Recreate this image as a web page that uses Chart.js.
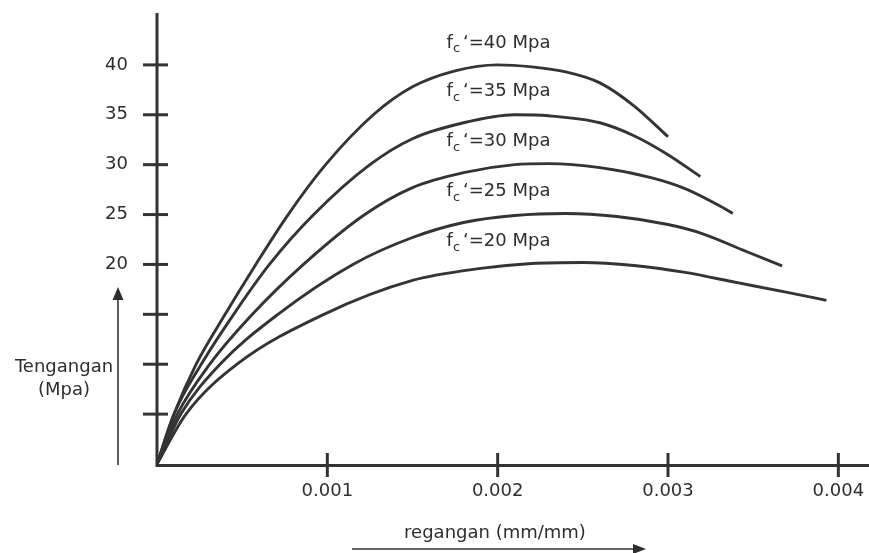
<!DOCTYPE html>
<html>
<head>
<meta charset="utf-8">
<script src="https://cdn.jsdelivr.net/npm/chart.js@4.4.1/dist/chart.umd.min.js"></script>
<style>
html,body{margin:0;padding:0;background:#fff;}
canvas{display:block;}
</style>
</head>
<body>
<canvas id="c" width="869" height="553"></canvas>
<script>
// ---- data ----
const seriesNames = ["40", "35", "30", "25", "20"];
const strain40 = [0, 0.0001, 0.00023, 0.0004, 0.00058, 0.00077, 0.00099, 0.00127, 0.0015, 0.00175, 0.002, 0.0022, 0.0024, 0.0026, 0.0028, 0.003];
const stress40 = [0, 5, 10, 15, 20, 25, 30, 35, 37.8, 39.4, 40, 39.8, 39.3, 38.2, 35.9, 32.8];
const strain35 = [0, 0.0001, 0.00026, 0.00045, 0.00066, 0.00092, 0.00125, 0.0015, 0.0018, 0.0021, 0.0023, 0.0026, 0.0028, 0.003, 0.00319];
const stress35 = [0, 5, 10, 15, 20, 25, 30, 32.6, 34.2, 35.0, 34.9, 34.2, 32.9, 31.0, 28.8];
const strain30 = [0, 0.00012, 0.00031, 0.00056, 0.00086, 0.00122, 0.0015, 0.0018, 0.0021, 0.0023, 0.0026, 0.0029, 0.0031, 0.0033, 0.00338];
const stress30 = [0, 5, 10, 15, 20, 25, 27.7, 29.2, 30.0, 30.1, 29.7, 28.7, 27.6, 25.9, 25.1];
const strain25 = [0, 0.00014, 0.00037, 0.00071, 0.00115, 0.0015, 0.0018, 0.0021, 0.0024, 0.0027, 0.003, 0.0032, 0.00346, 0.00367];
const stress25 = [0, 5, 10, 15, 20, 22.7, 24.2, 24.9, 25.1, 24.8, 24.0, 23.1, 21.3, 19.85];
const strain20 = [0, 0.00017, 0.00047, 0.00098, 0.0015, 0.0019, 0.0022, 0.0025, 0.0028, 0.0031, 0.0034, 0.0037, 0.00393];
const stress20 = [0, 5, 10, 15, 18.4, 19.6, 20.1, 20.2, 19.9, 19.2, 18.2, 17.2, 16.4];

const xTickValues = [0.001, 0.002, 0.003, 0.004];
const yTickLabels = [20, 25, 30, 35, 40];
const yTickMarks = [5, 10, 15, 20, 25, 30, 35, 40];
// label anchors (data coords: strain where text starts, stress at text middle)
const labelStrain = [0.0017, 0.0017, 0.0017, 0.0017, 0.0017];
const labelStress = [42.2, 37.3, 32.3, 27.3, 22.3];
const yTitle = ["Tengangan", "(Mpa)"];
const xTitle = "regangan (mm/mm)";

// ---- build ----
const INK = '#333333';
const FONT = '"DejaVu Sans", sans-serif';
const pairs = (xs, ys) => xs.map((x, i) => ({x: x, y: ys[i]}));
const allSeries = [[strain40, stress40], [strain35, stress35], [strain30, stress30], [strain25, stress25], [strain20, stress20]];

const datasets = allSeries.map((s, i) => ({
  label: "fc'=" + seriesNames[i] + " Mpa",
  data: pairs(s[0], s[1]),
  showLine: true,
  borderColor: '#343434',
  borderWidth: 2.9,
  pointRadius: 0,
  cubicInterpolationMode: 'monotone',
  fill: false
}));

const zeroPad = s => { s.paddingTop = 0; s.paddingBottom = 0; s.paddingLeft = 0; s.paddingRight = 0; };

const decor = {
  id: 'decor',
  afterDraw(chart) {
    const ctx = chart.ctx;
    const xs = chart.scales.x, ys = chart.scales.y;
    const x0 = xs.getPixelForValue(0), y0 = ys.getPixelForValue(0);
    ctx.save();
    ctx.strokeStyle = INK;
    ctx.lineCap = 'butt';
    // axes
    ctx.lineWidth = 3;
    ctx.beginPath();
    ctx.moveTo(x0, ys.top);
    ctx.lineTo(x0, y0 + 1.5);
    ctx.lineTo(xs.right, y0 + 1.5);
    ctx.stroke();
    // y tick marks crossing axis
    yTickMarks.forEach(v => {
      const py = ys.getPixelForValue(v);
      ctx.beginPath();
      ctx.moveTo(x0 - 14, py);
      ctx.lineTo(x0 + 11, py);
      ctx.stroke();
    });
    // x tick marks crossing axis
    xTickValues.forEach(v => {
      const px = xs.getPixelForValue(v);
      ctx.beginPath();
      ctx.moveTo(px, y0 - 11);
      ctx.lineTo(px, y0 + 13);
      ctx.stroke();
    });
    // curve labels
    ctx.fillStyle = '#2e2e2e';
    ctx.textBaseline = 'middle';
    ctx.textAlign = 'left';
    seriesNames.forEach((n, i) => {
      let px = xs.getPixelForValue(labelStrain[i]);
      const py = ys.getPixelForValue(labelStress[i]);
      ctx.font = '18px ' + FONT;
      ctx.fillText('f', px, py);
      px += ctx.measureText('f').width;
      ctx.font = '13px ' + FONT;
      ctx.fillText('c', px, py + 6);
      px += ctx.measureText('c').width + 3;
      ctx.font = '18px ' + FONT;
      ctx.fillText('\u2018=' + n + ' Mpa', px, py);
    });
    // y title
    ctx.font = '18px ' + FONT;
    ctx.textAlign = 'center';
    ctx.fillText(yTitle[0], 64, 367);
    ctx.fillText(yTitle[1], 64, 390);
    // y arrow
    const ax = 118;
    ctx.lineWidth = 1.6;
    ctx.beginPath();
    ctx.moveTo(ax, y0 + 1);
    ctx.lineTo(ax, 298);
    ctx.stroke();
    ctx.beginPath();
    ctx.moveTo(ax, 287);
    ctx.lineTo(ax - 5.5, 300);
    ctx.lineTo(ax + 5.5, 300);
    ctx.closePath();
    ctx.fill();
    // x title
    ctx.fillText(xTitle, 495, 533);
    // x arrow
    ctx.beginPath();
    ctx.moveTo(352, 549);
    ctx.lineTo(634, 549);
    ctx.stroke();
    ctx.beginPath();
    ctx.moveTo(646, 549);
    ctx.lineTo(633, 544);
    ctx.lineTo(633, 554);
    ctx.closePath();
    ctx.fill();
    ctx.restore();
  }
};

new Chart(document.getElementById('c'), {
  type: 'scatter',
  data: { datasets: datasets },
  options: {
    responsive: false,
    animation: false,
    layout: { padding: { top: 13, right: 0, left: 0, bottom: 0 } },
    plugins: { legend: { display: false }, tooltip: { enabled: false } },
    scales: {
      x: {
        type: 'linear', min: 0, max: 0.00418,
        border: { display: false },
        grid: { display: false, drawTicks: false },
        afterBuildTicks: s => { s.ticks = xTickValues.map(v => ({ value: v })); },
        afterFit: s => { s.height = 89; zeroPad(s); },
        ticks: {
          color: '#2e2e2e', padding: 17, maxRotation: 0, autoSkip: false,
          font: { family: FONT, size: 18 },
          callback: v => Number(v).toFixed(3)
        }
      },
      y: {
        type: 'linear', min: 0, max: 45.2,
        border: { display: false },
        grid: { display: false, drawTicks: false },
        afterBuildTicks: s => { s.ticks = yTickLabels.map(v => ({ value: v })); },
        afterFit: s => { s.width = 157; zeroPad(s); },
        ticks: {
          color: '#2e2e2e', padding: 29, autoSkip: false,
          font: { family: FONT, size: 18 },
          callback: v => String(v)
        }
      }
    }
  },
  plugins: [decor]
});
</script>
</body>
</html>
